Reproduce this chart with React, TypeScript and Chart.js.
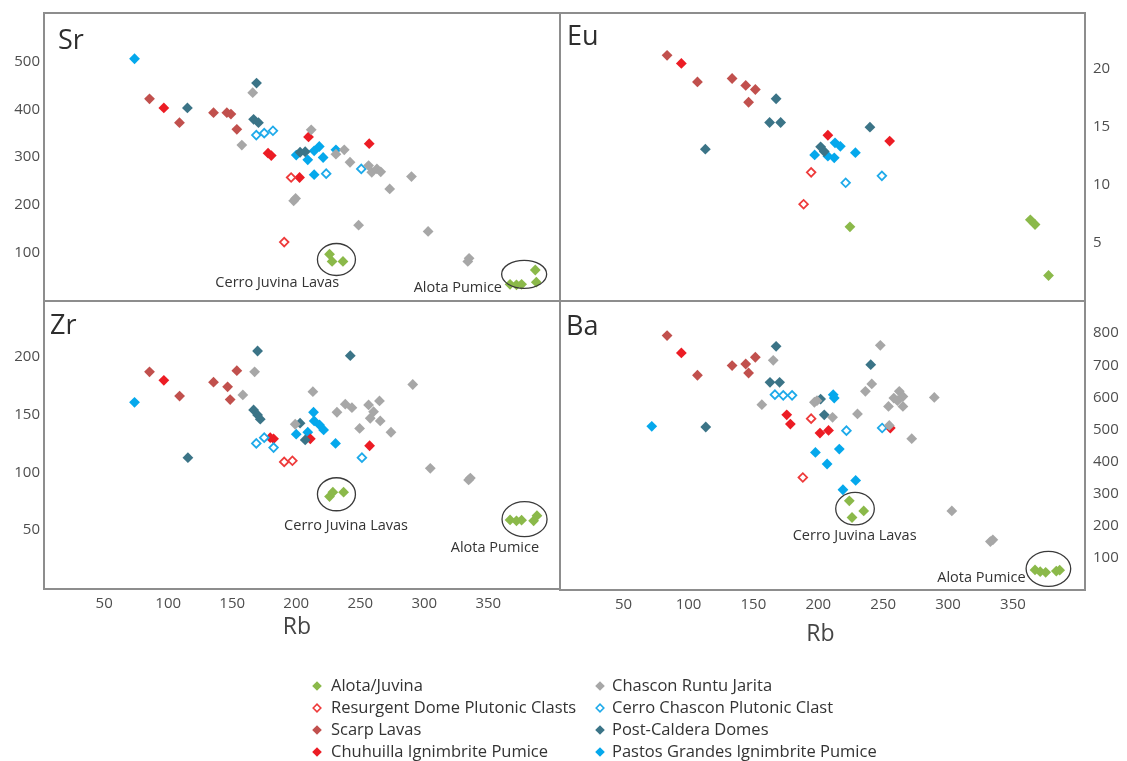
import React, { useEffect, useRef } from 'react';
import { Chart, registerables } from 'chart.js';
import { drawPoint } from 'chart.js/helpers';

Chart.register(...registerables);

type Pt = [number, number];

const W = 1127;
const H = 761;
const FONT = '"Open Sans", "Noto Sans", "DejaVu Sans", sans-serif';

// ---- tick labels ----
const rbTicks = [50, 100, 150, 200, 250, 300, 350];
const srTicks = [100, 200, 300, 400, 500];
const zrTicks = [50, 100, 150, 200];
const euTicks = [5, 10, 15, 20];
const baTicks = [100, 200, 300, 400, 500, 600, 700, 800];

// ---- Sr vs Rb ----
const srAlota: Pt[] = [[226, 96], [228, 81], [236.5, 81], [367, 33], [372, 32], [376, 33], [386.7, 63], [387.5, 37.5]];
const srResurgent: Pt[] = [[196, 257], [190.6, 121.5]];
const srScarp: Pt[] = [[85.4, 422], [108.8, 372], [135.4, 393], [145.8, 393], [149, 390], [153.6, 358]];
const srChuhuilla: Pt[] = [[96.6, 403], [178, 308], [180.5, 303], [209.6, 342], [257, 328], [202.6, 257]];
const srChascon: Pt[] = [[166, 435], [157.5, 325], [211.7, 357], [198, 208], [199.5, 213], [231, 306], [237.5, 315], [242, 289], [256.5, 282], [259, 268], [263, 275], [266, 269], [273, 233], [290, 259], [248.7, 157], [303, 144], [335, 87.5], [334, 81]];
const srCerroChascon: Pt[] = [[168.8, 346], [175, 350], [181.8, 355], [223.4, 265], [250.8, 275]];
const srPostCaldera: Pt[] = [[169, 455], [115, 403], [166.7, 379], [170.5, 372], [203, 310], [207, 311]];
const srPastos: Pt[] = [[73.7, 506], [200, 304], [209, 294], [214, 313], [218, 322], [221, 299], [231, 315], [214, 263]];

// ---- Eu vs Rb ----
const euAlota: Pt[] = [[224.4, 6.4], [363.4, 7.0], [367, 6.6], [377.4, 2.2]];
const euResurgent: Pt[] = [[194.5, 11.1], [188.7, 8.35]];
const euScarp: Pt[] = [[83.5, 21.2], [106.9, 18.9], [133.6, 19.2], [144.1, 18.6], [151.5, 18.25], [146.3, 17.15]];
const euChuhuilla: Pt[] = [[94.5, 20.5], [207.4, 14.3], [255, 13.8]];
const euCerroChascon: Pt[] = [[221.1, 10.2], [249, 10.8]];
const euPostCaldera: Pt[] = [[167.5, 17.45], [162.5, 15.4], [171, 15.4], [113, 13.1], [239.8, 15.0], [201.8, 13.3], [204.6, 12.9]];
const euPastos: Pt[] = [[197.2, 12.6], [207.4, 12.5], [212.3, 12.35], [212.9, 13.65], [217, 13.35], [228.6, 12.8]];

// ---- Zr vs Rb ----
const zrAlota: Pt[] = [[226, 79], [228.6, 82.8], [237, 82.8], [367, 58.8], [372, 58], [376, 58.6], [385.4, 58], [388, 62.5]];
const zrResurgent: Pt[] = [[190.6, 109], [197, 110]];
const zrScarp: Pt[] = [[85.4, 187], [108.9, 166], [135.4, 178], [146.4, 174], [148.4, 163], [153.6, 188]];
const zrChuhuilla: Pt[] = [[96.6, 179.6], [179.7, 130], [182.3, 129], [211, 129], [257.3, 123]];
const zrChascon: Pt[] = [[167.5, 187], [158.3, 167], [213, 169.8], [199.2, 141.6], [231.8, 152], [238.3, 159], [243.5, 156], [249.5, 138], [256.5, 158.3], [260.4, 152.5], [257.8, 146.8], [265, 161.8], [265.6, 144.5], [274, 134.7], [291, 176], [304.7, 103.5], [336, 95], [334.6, 93.4]];
const zrCerroChascon: Pt[] = [[168.8, 125], [175, 130], [182.3, 121.4], [251.3, 112.7]];
const zrPostCaldera: Pt[] = [[169.8, 205], [242.2, 201], [166.7, 154], [169.8, 149.7], [171.9, 146], [115.4, 112.7], [203, 142.5], [207, 128]];
const zrPastos: Pt[] = [[73.7, 160.6], [213.5, 152], [214, 144.5], [218.2, 141], [221.4, 136.7], [209, 134.7], [200, 133], [230.7, 125]];

// ---- Ba vs Rb ----
const baAlota: Pt[] = [[223.9, 278.5], [235, 247], [226, 226.5], [367, 63.6], [371, 58], [375.2, 56], [383.4, 60], [386, 62.6]];
const baResurgent: Pt[] = [[194.5, 534], [188.1, 351]];
const baScarp: Pt[] = [[83.5, 792.5], [106.9, 669], [133.6, 699], [144.1, 704], [151.5, 725], [146.3, 676]];
const baChuhuilla: Pt[] = [[94.5, 738.6], [175.7, 546], [178.5, 517], [201.3, 489], [207.9, 497.5], [255.5, 505]];
const baChascon: Pt[] = [[165.3, 715.6], [156.5, 577.6], [197, 585], [199, 590], [211, 538], [230.2, 548.6], [236.3, 619], [241.2, 642], [247.8, 762], [254.1, 572], [258.2, 598], [262.4, 619], [265.2, 603], [261, 590], [265.2, 572], [254.7, 513], [289.4, 600], [272, 471.6], [302.9, 247], [334.5, 157], [332.6, 151.7]];
const baCerroChascon: Pt[] = [[166.6, 608.7], [173, 606.5], [179.8, 606.5], [221.7, 496.6], [249.2, 505]];
const baPostCaldera: Pt[] = [[167.5, 759], [162.8, 647], [170.2, 647], [113.3, 508], [240.4, 702], [201.8, 595], [204.6, 546]];
const baPastos: Pt[] = [[71.7, 510], [211.5, 608.7], [212.3, 598], [197.8, 429], [216.2, 439.5], [206.8, 393], [228.8, 341.8], [219, 312.8]];

// ---- series appearance ----
interface Series { key: string; label: string; color: string; open: boolean }
const SERIES: Series[] = [
  { key: 'chascon', label: 'Chascon Runtu Jarita', color: '#a7a7a7', open: false },
  { key: 'scarp', label: 'Scarp Lavas', color: '#c1504d', open: false },
  { key: 'postCaldera', label: 'Post-Caldera Domes', color: '#3b7487', open: false },
  { key: 'cerroChascon', label: 'Cerro Chascon Plutonic Clast', color: '#1eaaea', open: true },
  { key: 'resurgent', label: 'Resurgent Dome Plutonic Clasts', color: '#ee3a3a', open: true },
  { key: 'chuhuilla', label: 'Chuhuilla Ignimbrite Pumice', color: '#ec1c24', open: false },
  { key: 'pastos', label: 'Pastos Grandes Ignimbrite Pumice', color: '#05a8ec', open: false },
  { key: 'alota', label: 'Alota/Juvina', color: '#8bb94a', open: false },
];
const legendColumns: string[][] = [
  ['alota', 'resurgent', 'scarp', 'chuhuilla'],
  ['chascon', 'cerroChascon', 'postCaldera', 'pastos'],
];

interface Ring { rb: number; v: number; rx: number; ry: number }
interface Note { text: string; rb: number; v: number }
interface Panel {
  title: string;
  data: Record<string, Pt[]>;
  yMin: number; yMax: number; yTicks: number[];
  xMin: number; xMax: number;
  yPos: 'left' | 'right';
  showX: boolean;
  box: { l: number; t: number; r: number; b: number };
  titleAt: [number, number];
  rbTitleAt: [number, number];
  rings: Ring[];
  notes: Note[];
  legend: boolean;
}

const PANELS: Panel[] = [
  {
    title: 'Sr',
    data: { alota: srAlota, resurgent: srResurgent, scarp: srScarp, chuhuilla: srChuhuilla, chascon: srChascon, cerroChascon: srCerroChascon, postCaldera: srPostCaldera, pastos: srPastos },
    yMin: -2, yMax: 602, yTicks: srTicks, xMin: 3, xMax: 406,
    yPos: 'left', showX: false,
    box: { l: 44, t: 13, r: 560, b: 301 },
    titleAt: [14, 36], rbTitleAt: [0, 0],
    rings: [{ rb: 231.4, v: 85, rx: 19, ry: 16 }, { rb: 378, v: 54, rx: 22.5, ry: 14 }],
    notes: [{ text: 'Cerro Juvina Lavas', rb: 185.2, v: 35.4 }, { text: 'Alota Pumice', rb: 326.2, v: 26.5 }],
    legend: false,
  },
  {
    title: 'Eu',
    data: { alota: euAlota, resurgent: euResurgent, scarp: euScarp, chuhuilla: euChuhuilla, cerroChascon: euCerroChascon, postCaldera: euPostCaldera, pastos: euPastos },
    yMin: 0, yMax: 24.85, yTicks: euTicks, xMin: 1, xMax: 405.5,
    yPos: 'right', showX: false,
    box: { l: 560, t: 13, r: 1085, b: 301 },
    titleAt: [7, 32], rbTitleAt: [0, 0],
    rings: [], notes: [],
    legend: false,
  },
  {
    title: 'Zr',
    data: { alota: zrAlota, resurgent: zrResurgent, scarp: zrScarp, chuhuilla: zrChuhuilla, chascon: zrChascon, cerroChascon: zrCerroChascon, postCaldera: zrPostCaldera, pastos: zrPastos },
    yMin: -1, yMax: 248.3, yTicks: zrTicks, xMin: 3, xMax: 406,
    yPos: 'left', showX: true,
    box: { l: 44, t: 301, r: 560, b: 589 },
    titleAt: [6, 33], rbTitleAt: [-5, 38],
    rings: [{ rb: 231.4, v: 81, rx: 19, ry: 16.5 }, { rb: 378.3, v: 59.4, rx: 22.5, ry: 17.5 }],
    notes: [{ text: 'Cerro Juvina Lavas', rb: 238.9, v: 53.8 }, { text: 'Alota Pumice', rb: 355.2, v: 34.7 }],
    legend: false,
  },
  {
    title: 'Ba',
    data: { alota: baAlota, resurgent: baResurgent, scarp: baScarp, chuhuilla: baChuhuilla, chascon: baChascon, cerroChascon: baCerroChascon, postCaldera: baPostCaldera, pastos: baPastos },
    yMin: 1, yMax: 900, yTicks: baTicks, xMin: 1, xMax: 405.5,
    yPos: 'right', showX: true,
    box: { l: 560, t: 301, r: 1085, b: 590 },
    titleAt: [6, 34], rbTitleAt: [-2, 44],
    rings: [{ rb: 228.3, v: 254, rx: 19.3, ry: 16.3 }, { rb: 377.3, v: 67, rx: 22.3, ry: 17.5 }],
    notes: [{ text: 'Cerro Juvina Lavas', rb: 228, v: 170 }, { text: 'Alota Pumice', rb: 325.7, v: 37.6 }],
    legend: true,
  },
];

const Y_AXIS_W = 44;
const X_AXIS_H = 30;

// Frame, panel title, circled groups, their captions, the Rb axis title and the shared key.
const panelDecor = {
  id: 'panelDecor',
  afterDatasetsDraw(chart: any, _args: any, opts: any) {
    const p: Panel = opts.panel;
    const { ctx, chartArea: a, scales } = chart;
    const xs = scales.x;
    const ys = scales.y;
    ctx.save();
    ctx.strokeStyle = '#8d8d8d';
    ctx.lineWidth = 2;
    ctx.strokeRect(a.left, a.top, a.right - a.left, a.bottom - a.top);

    ctx.fillStyle = '#2e2e2e';
    ctx.font = `27px ${FONT}`;
    ctx.textAlign = 'left';
    ctx.textBaseline = 'alphabetic';
    ctx.fillText(p.title, a.left + p.titleAt[0], a.top + p.titleAt[1]);

    ctx.strokeStyle = '#3a3a3a';
    ctx.lineWidth = 1.3;
    for (const r of p.rings) {
      ctx.beginPath();
      ctx.ellipse(xs.getPixelForValue(r.rb), ys.getPixelForValue(r.v), r.rx, r.ry, 0, 0, Math.PI * 2);
      ctx.stroke();
    }

    ctx.fillStyle = '#333333';
    ctx.font = `14.5px ${FONT}`;
    ctx.textAlign = 'center';
    ctx.textBaseline = 'middle';
    for (const n of p.notes) {
      ctx.fillText(n.text, xs.getPixelForValue(n.rb), ys.getPixelForValue(n.v));
    }

    if (p.showX) {
      ctx.fillStyle = '#444444';
      ctx.font = `23px ${FONT}`;
      ctx.fillText('Rb', (a.left + a.right) / 2 + p.rbTitleAt[0], a.bottom + p.rbTitleAt[1]);
    }

    if (p.legend) {
      const colX = [[317, 331], [600, 612]];
      const rowY = [686, 708, 730, 752];
      ctx.font = `16.5px ${FONT}`;
      ctx.textAlign = 'left';
      ctx.textBaseline = 'middle';
      legendColumns.forEach((col, ci) => {
        col.forEach((key, ri) => {
          const s = SERIES.find((q) => q.key === key)!;
          const [mx, tx] = colX[ci];
          const y = rowY[ri];
          ctx.fillStyle = s.open ? '#ffffff' : s.color;
          ctx.strokeStyle = s.color;
          ctx.lineWidth = 1.6;
          drawPoint(ctx, { pointStyle: 'rectRot', rotation: 0, radius: s.open ? 3.8 : 4.8, borderWidth: s.open ? 1.6 : 0 } as any, mx, y);
          ctx.fillStyle = '#333333';
          ctx.fillText(s.label, tx, y);
        });
      });
    }
    ctx.restore();
  },
};

function buildConfig(p: Panel): any {
  const datasets = SERIES.filter((s) => p.data[s.key] && p.data[s.key].length).map((s) => ({
    label: s.label,
    data: p.data[s.key].map(([x, y]) => ({ x, y })),
    pointStyle: 'rectRot',
    pointRadius: s.open ? 4.3 : 5.4,
    backgroundColor: s.open ? '#ffffff' : s.color,
    borderColor: s.color,
    borderWidth: s.open ? 1.8 : 0,
  }));
  const tickFont = { family: FONT, size: 15 };
  return {
    type: 'scatter',
    data: { datasets },
    options: {
      animation: false,
      responsive: false,
      maintainAspectRatio: false,
      events: [],
      layout: {
        autoPadding: false,
        padding: {
          left: p.box.l - (p.yPos === 'left' ? Y_AXIS_W : 0),
          right: W - p.box.r - (p.yPos === 'right' ? Y_AXIS_W : 0),
          top: p.box.t,
          bottom: H - p.box.b - (p.showX ? X_AXIS_H : 0),
        },
      },
      plugins: {
        legend: { display: false },
        tooltip: { enabled: false },
        panelDecor: { panel: p },
      },
      scales: {
        x: {
          type: 'linear',
          position: 'bottom',
          display: p.showX,
          min: p.xMin,
          max: p.xMax,
          grid: { display: false, drawTicks: false },
          border: { display: false },
          ticks: { font: tickFont, color: '#4e4e4e', padding: 6, maxRotation: 0 },
          afterBuildTicks: (s: any) => { s.ticks = rbTicks.map((v) => ({ value: v })); },
          afterFit: (s: any) => {
            s.height = p.showX ? X_AXIS_H : 0;
            s.paddingLeft = 0; s.paddingRight = 0; s.paddingTop = 0; s.paddingBottom = 0;
          },
        },
        y: {
          type: 'linear',
          position: p.yPos,
          min: p.yMin,
          max: p.yMax,
          grid: { display: false, drawTicks: false },
          border: { display: false },
          ticks: { font: tickFont, color: '#4e4e4e', padding: p.yPos === 'left' ? 4 : 8 },
          afterBuildTicks: (s: any) => { s.ticks = p.yTicks.map((v) => ({ value: v })); },
          afterFit: (s: any) => {
            s.width = Y_AXIS_W;
            s.paddingLeft = 0; s.paddingRight = 0; s.paddingTop = 0; s.paddingBottom = 0;
          },
        },
      },
    },
    plugins: [panelDecor],
  };
}

export default function App() {
  const refs = useRef<(HTMLCanvasElement | null)[]>([]);
  useEffect(() => {
    const charts = PANELS.map((p, i) => new Chart(refs.current[i] as HTMLCanvasElement, buildConfig(p)));
    return () => charts.forEach((c) => c.destroy());
  }, []);
  return (
    <div style={{ position: 'absolute', left: 0, top: 0, width: W, height: H, background: '#ffffff' }}>
      {PANELS.map((p, i) => (
        <canvas
          key={p.title}
          ref={(el) => { refs.current[i] = el; }}
          width={W}
          height={H}
          style={{ position: 'absolute', left: 0, top: 0, width: W, height: H }}
        />
      ))}
    </div>
  );
}
